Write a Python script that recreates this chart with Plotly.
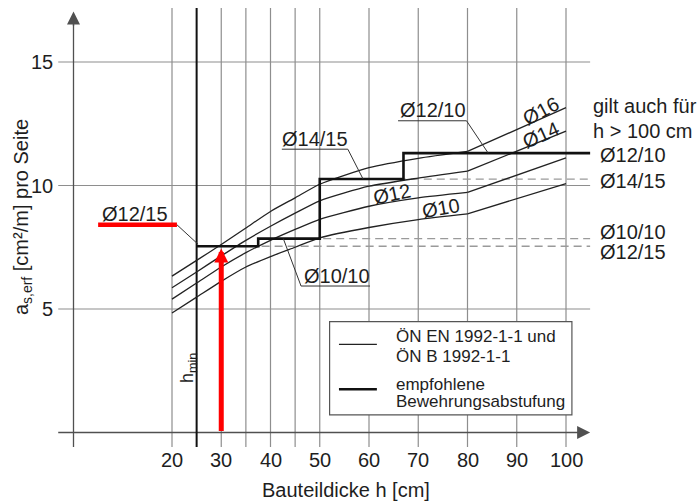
import plotly.graph_objects as go

# ---------------- data ----------------
h_curve = [20, 25, 30, 35, 40, 45, 50, 60, 70, 80, 90, 100]
as_d16 = [6.33, 6.97, 7.61, 8.28, 8.95, 9.50, 10.05, 10.72, 11.10, 11.38, 12.26, 13.15]
as_d14 = [5.86, 6.50, 7.15, 7.78, 8.35, 8.88, 9.38, 9.97, 10.30, 10.58, 11.39, 12.20]
as_d12 = [5.40, 6.05, 6.70, 7.28, 7.78, 8.22, 8.63, 9.16, 9.50, 9.72, 10.42, 11.12]
as_d10 = [4.84, 5.48, 6.12, 6.70, 7.12, 7.50, 7.88, 8.30, 8.62, 8.85, 9.47, 10.08]
curve_names = ["Ø16", "Ø14", "Ø12", "Ø10"]
kink_h = 80  # curves are straight beyond this thickness

step_labels = ["Ø12/15", "Ø10/10", "Ø14/15", "Ø12/10"]
step_values = [7.54, 7.85, 10.26, 11.31]
step_h_from = [25, 37.5, 50, 67]
h_end = 104.9

x_tick_vals = [20, 30, 40, 50, 60, 70, 80, 90, 100]
x_grid_vals = [20, 30, 35, 40, 45, 50, 60, 70, 80, 90, 100]
y_tick_vals = [5, 10, 15]
h_min = 25
h_example = 30
as_example = 7.45

x_title = "Bauteildicke h [cm]"
y_title = "a<sub>s,erf</sub> [cm²/m] pro Seite"
legend_texts = ["ÖN EN 1992-1-1 und", "ÖN B 1992-1-1", "empfohlene", "Bewehrungsabstufung"]
note_texts = ["gilt auch für", "h > 100 cm"]

# ---------------- layout helpers (positions / styles) ----------------
X_RANGE = [-14.924, 127.208]
Y_RANGE = [-2.814, 17.510]
FONT = "Liberation Sans, Arial, sans-serif"
TXT = "#1e1e1e"
GRID = "#8e8e8e"
AXIS = "#505050"
y_lo, y_hi = -0.59, 17.19
x_lo = -3.1

fig = go.Figure()
shapes = []
ann = []


def line(x0, y0, x1, y1, color=GRID, width=1.2, dash=None, layer="below"):
    d = dict(type="line", xref="x", yref="y", x0=x0, y0=y0, x1=x1, y1=y1,
             line=dict(color=color, width=width), layer=layer)
    if dash:
        d["line"]["dash"] = dash
    shapes.append(d)


def text(x, y, s, size=20, xanchor="center", yanchor="middle", angle=0, color=TXT):
    ann.append(dict(x=x, y=y, xref="x", yref="y", text=s, showarrow=False,
                    xanchor=xanchor, yanchor=yanchor, textangle=angle,
                    font=dict(family=FONT, size=size, color=color)))


def arrow(x0, y0, x1, y1, color, width, head=2, size=1.0):
    ann.append(dict(x=x1, y=y1, ax=x0, ay=y0, xref="x", yref="y", axref="x", ayref="y",
                    text="", showarrow=True, arrowhead=head, arrowsize=size,
                    arrowwidth=width, arrowcolor=color, standoff=0, startstandoff=0))


# grid
for xv in x_grid_vals:
    line(xv, y_lo, xv, y_hi)
for yv in y_tick_vals:
    line(x_lo, yv, h_end, yv)

# dashed reference levels
for lab, val, h0 in zip(step_labels, step_values, step_h_from):
    if lab != "Ø12/10":
        line(h0, val, h_end, val, color="#9a9a9a", width=1.3, dash="8px,5px")

# axes
line(x_lo, 0, h_end - 1.5, 0, color=AXIS, width=1.3)
line(0, y_lo, 0, 16.6, color=AXIS, width=1.3)
arrow(h_end - 2.5, 0, h_end, 0, AXIS, 1.3, head=2, size=2.0)
arrow(0, 16.4, 0, 17.04, AXIS, 1.3, head=2, size=2.0)

# h_min line
line(h_min, y_lo, h_min, y_hi, color="#111111", width=2.0)

# legend box
shapes.append(dict(type="rect", xref="x", yref="y", x0=52.0, x1=101.2, y0=0.71, y1=4.49,
                   fillcolor="white", line=dict(color="#555555", width=1.2), layer="below"))
line(53.9, 3.57, 61.6, 3.57, color="#222222", width=1.3)
line(53.9, 1.75, 61.6, 1.75, color="#111111", width=2.6)
for s, yv in zip(legend_texts, [3.89, 3.06, 1.95, 1.24]):
    text(65.0, yv, s, size=17, xanchor="left")

# curves
for name, vals in zip(curve_names, [as_d16, as_d14, as_d12, as_d10]):
    k = h_curve.index(kink_h)
    fig.add_trace(go.Scatter(x=h_curve[:k + 1], y=vals[:k + 1], mode="lines",
                             line=dict(color="#222222", width=1.3, shape="spline", smoothing=0.6),
                             hoverinfo="skip", showlegend=False, name=name))
    fig.add_trace(go.Scatter(x=h_curve[k:], y=vals[k:], mode="lines",
                             line=dict(color="#222222", width=1.3),
                             hoverinfo="skip", showlegend=False, name=name))

# recommended step line
fig.add_trace(go.Scatter(x=step_h_from + [h_end], y=step_values + [step_values[-1]],
                         mode="lines", line=dict(color="#111111", width=2.6, shape="hv"),
                         hoverinfo="skip", showlegend=False))

# leader lines / underlines
LEAD = "#333333"
# Ø12/15 (red underline)
line(5.0, 8.41, 21.0, 8.41, color="#ff0000", width=4.5, layer="above")
line(21.0, 8.41, 25.3, 7.62, color=LEAD, width=1.0, layer="above")
text(12.5, 8.84, step_labels[0])
# Ø14/15
line(42.3, 11.47, 55.7, 11.47, color=LEAD, width=1.0, layer="above")
line(55.7, 11.47, 58.8, step_values[2], color=LEAD, width=1.0, layer="above")
text(49.1, 11.9, step_labels[2])
# Ø12/10
line(65.9, 12.62, 79.8, 12.62, color=LEAD, width=1.0, layer="above")
line(79.8, 12.62, 84.2, step_values[3], color=LEAD, width=1.0, layer="above")
text(73.0, 13.06, step_labels[3])
# Ø10/10
line(42.6, step_values[1], 46.2, 5.93, color=LEAD, width=1.0, layer="above")
line(46.2, 5.93, 60.2, 5.93, color=LEAD, width=1.0, layer="above")
text(53.4, 6.35, step_labels[1])

# curve labels
text(94.9, 13.02, curve_names[0], angle=-28)
text(94.9, 12.04, curve_names[1], angle=-24)
text(64.7, 9.66, curve_names[2], angle=-12)
text(74.7, 9.08, curve_names[3], angle=-10)

# right-hand labels
text(105.0, 13.22, note_texts[0], xanchor="left")
text(105.0, 12.21, note_texts[1], xanchor="left")
for s, yv in zip(["Ø12/10", "Ø14/15", "Ø10/10", "Ø12/15"], [11.25, 10.20, 8.10, 7.29]):
    text(106.5, yv, s, xanchor="left")

# red arrow
arrow(h_example, 0, h_example, as_example, "#ff0000", 5, head=2, size=0.56)

# ticks labels
for xv in x_tick_vals:
    text(xv, -1.1, str(xv))
for yv in y_tick_vals:
    text(-3.7, yv, str(yv), xanchor="right")

# titles
text(55.3, -2.33, x_title)
text(-10.46, 8.72, y_title, angle=-90)
text(23.25, 2.61, "h<sub>min</sub>", size=18, angle=-90)

fig.update_layout(
    width=700, height=502,
    margin=dict(l=0, r=0, t=0, b=0),
    paper_bgcolor="white", plot_bgcolor="white",
    xaxis=dict(range=X_RANGE, visible=False, fixedrange=True),
    yaxis=dict(range=Y_RANGE, visible=False, fixedrange=True),
    shapes=shapes, annotations=ann, showlegend=False,
)
fig.write_html(
    "out.html",
    config={"displayModeBar": False},
    post_script="document.body.style.margin='0';document.body.style.padding='0';"
                "document.documentElement.style.overflow='hidden';",
)
